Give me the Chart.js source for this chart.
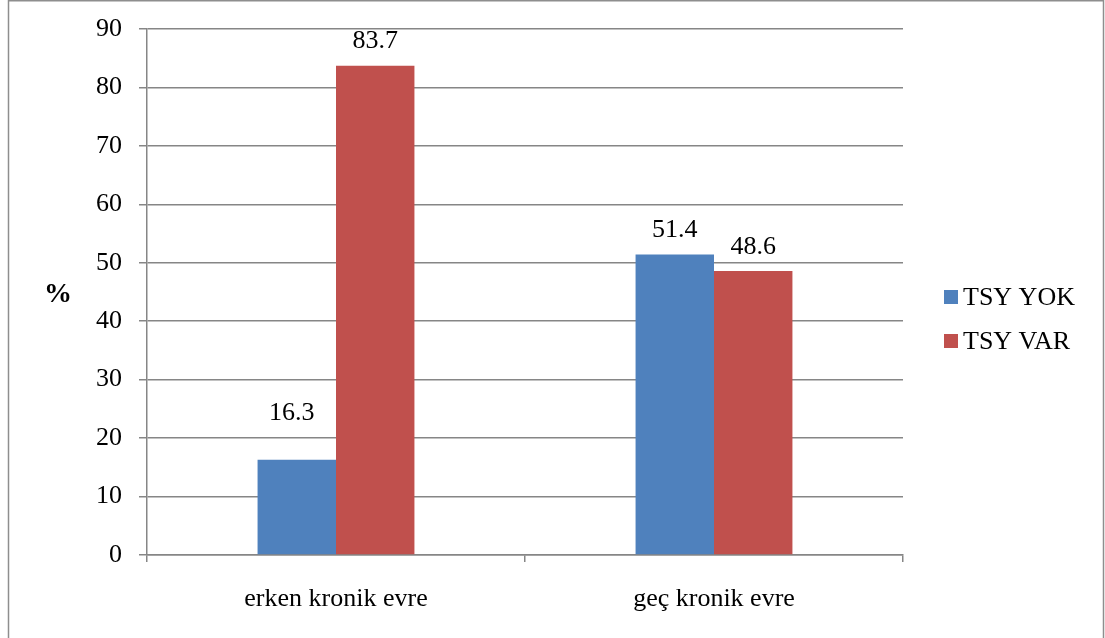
<!DOCTYPE html>
<html>
<head>
<meta charset="utf-8">
<style>
  html, body { margin: 0; padding: 0; background: #ffffff; }
  #wrap { position: relative; width: 1105px; height: 638px; }
</style>
<script src="https://cdn.jsdelivr.net/npm/chart.js@4/dist/chart.umd.min.js"></script>
</head>
<body>
<div id="wrap"><canvas id="c" width="1105" height="638"></canvas></div>
<script>
// Categories and series values
const categories = ['erken kronik evre', 'geç kronik evre'];
const seriesNames = ['TSY YOK', 'TSY VAR'];
const tsyYok = [16.3, 51.4];
const tsyVar = [83.7, 48.6];
const yTicks = { min: 0, max: 90, step: 10 };
const yTitle = '%';

const FONT = '"Liberation Serif", "Times New Roman", serif';
const GRID = '#868686';
const COLORS = ['#4F81BD', '#C0504D'];

// Distance (px) from each bar's top to the centre of its value label
const labelLift = [[47, 24], [25, 24]];

const valueLabels = {
  id: 'valueLabels',
  afterDatasetsDraw(chart) {
    const ctx = chart.ctx;
    ctx.save();
    ctx.font = '26px ' + FONT;
    ctx.fillStyle = '#000';
    ctx.textAlign = 'center';
    ctx.textBaseline = 'middle';
    chart.data.datasets.forEach((ds, di) => {
      chart.getDatasetMeta(di).data.forEach((bar, i) => {
        const dx = (di === 0 && i === 0) ? -5 : 0;
        ctx.fillText(ds.data[i].toFixed(1), bar.x + dx, bar.y - labelLift[di][i]);
      });
    });
    ctx.restore();
  }
};

const sideLegend = {
  id: 'sideLegend',
  afterDraw(chart) {
    const ctx = chart.ctx;
    ctx.save();
    ctx.font = '26px ' + FONT;
    ctx.textAlign = 'left';
    ctx.textBaseline = 'middle';
    chart.data.datasets.forEach((ds, i) => {
      const cy = 297 + i * 44;
      ctx.fillStyle = ds.backgroundColor;
      ctx.fillRect(944, cy - 7, 14, 14);
      ctx.fillStyle = '#000';
      ctx.fillText(ds.label, 963, cy + 1);
    });
    // axis title
    ctx.font = 'bold 28px ' + FONT;
    ctx.textAlign = 'center';
    ctx.fillText(yTitle, 58, 295);
    ctx.restore();
  }
};

const frame = {
  id: 'frame',
  beforeDraw(chart) {
    const ctx = chart.ctx;
    ctx.save();
    ctx.fillStyle = '#fff';
    ctx.fillRect(0, 0, chart.width, chart.height);
    ctx.strokeStyle = '#8e8e8e';
    ctx.lineWidth = 1.5;
    ctx.beginPath();
    ctx.moveTo(8.5, 640);
    ctx.lineTo(8.5, 0.75);
    ctx.lineTo(1103.5, 0.75);
    ctx.lineTo(1103.5, 640);
    ctx.stroke();
    ctx.restore();
  }
};

new Chart(document.getElementById('c'), {
  type: 'bar',
  data: {
    labels: categories,
    datasets: [
      { label: seriesNames[0], data: tsyYok, backgroundColor: COLORS[0] },
      { label: seriesNames[1], data: tsyVar, backgroundColor: COLORS[1] }
    ]
  },
  options: {
    responsive: false,
    animation: false,
    layout: { padding: { top: 29, right: 202, bottom: 0, left: 0 } },
    datasets: { bar: { categoryPercentage: 0.415, barPercentage: 1.0 } },
    plugins: { legend: { display: false }, tooltip: { enabled: false } },
    scales: {
      x: {
        afterFit(s) { s.height = 83; s.paddingLeft = 0; s.paddingRight = 0; },
        grid: { drawOnChartArea: false, drawTicks: true, tickLength: 7, offset: true, color: GRID, lineWidth: 1.5 },
        border: { display: true, color: GRID, width: 1.5 },
        ticks: { color: '#000', font: { family: FONT, size: 26 }, padding: 22 }
      },
      y: {
        min: yTicks.min,
        max: yTicks.max,
        afterFit(s) { s.width = 147; s.paddingTop = 0; s.paddingBottom = 0; },
        grid: { color: GRID, lineWidth: 1.5, tickLength: 8 },
        border: { display: true, color: GRID, width: 1.5 },
        ticks: { stepSize: yTicks.step, color: '#000', font: { family: FONT, size: 26 }, padding: 17 }
      }
    }
  },
  plugins: [frame, valueLabels, sideLegend]
});
</script>
</body>
</html>
